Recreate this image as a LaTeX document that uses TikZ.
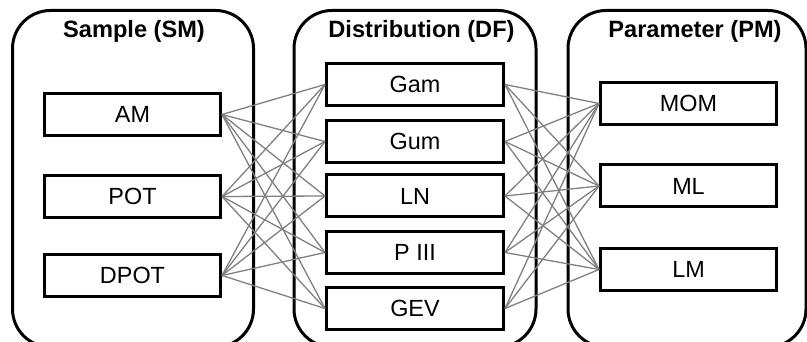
\documentclass[tikz,border=0pt]{standalone}
\usepackage{fontspec}
\setmainfont{Liberation Sans}
\definecolor{lk}{RGB}{128,128,128}
\begin{document}
\begin{tikzpicture}[x=1pt,y=-1pt,
  container/.style={draw=black,line width=3pt,rounded corners=38pt},
  itembox/.style={draw=black,fill=white,line width=3pt,rectangle,inner sep=0pt,
    minimum width=176pt,minimum height=42pt,font=\fontsize{23.4}{28}\selectfont},
  title/.style={anchor=base,inner sep=0pt,font=\fontsize{23.6}{28}\selectfont\bfseries},
  link/.style={draw=lk,line width=1.3pt}]
\useasboundingbox (0,0) rectangle (807,342);
\clip (0,0) rectangle (807,342);
% containers
\draw[container] (12.5,10.5) rectangle (253.5,347);
\draw[container] (294,10.5) rectangle (536,347);
\draw[container] (568,10.5) rectangle (806,347);
% titles
\node[title] (tSM) at (134,38) {Sample (SM)};
\node[title] (tDF) at (421.5,38) {Distribution (DF)};
\node[title] (tPM) at (695,38) {Parameter (PM)};
% boxes
\node[itembox] (AM) at (132.5,114.5) {AM};
\node[itembox] (POT) at (132.5,196.5) {POT};
\node[itembox] (DPOT) at (132.5,275.5) {DPOT};
\node[itembox,minimum width=177pt] (Gam) at (415,84.5) {Gam};
\node[itembox,minimum width=177pt] (Gum) at (415,141.5) {Gum};
\node[itembox,minimum width=177pt] (LN) at (415,196) {LN};
\node[itembox,minimum width=177pt] (P3) at (415,252.5) {P III};
\node[itembox,minimum width=177pt] (GEV) at (415,308.5) {GEV};
\node[itembox] (MOM) at (688.5,103.5) {MOM};
\node[itembox] (ML) at (688.5,186) {ML};
\node[itembox] (LM) at (688.5,269.5) {LM};
% links
\foreach \s in {AM,POT,DPOT}{
  \foreach \d in {Gam,Gum,LN,P3,GEV}{
    \draw[link] (\s.east) -- (\d.west);
  }
}
\foreach \s in {Gam,Gum,LN,P3,GEV}{
  \foreach \d in {MOM,ML,LM}{
    \draw[link] (\s.east) -- (\d.west);
  }
}
\end{tikzpicture}
\end{document}
